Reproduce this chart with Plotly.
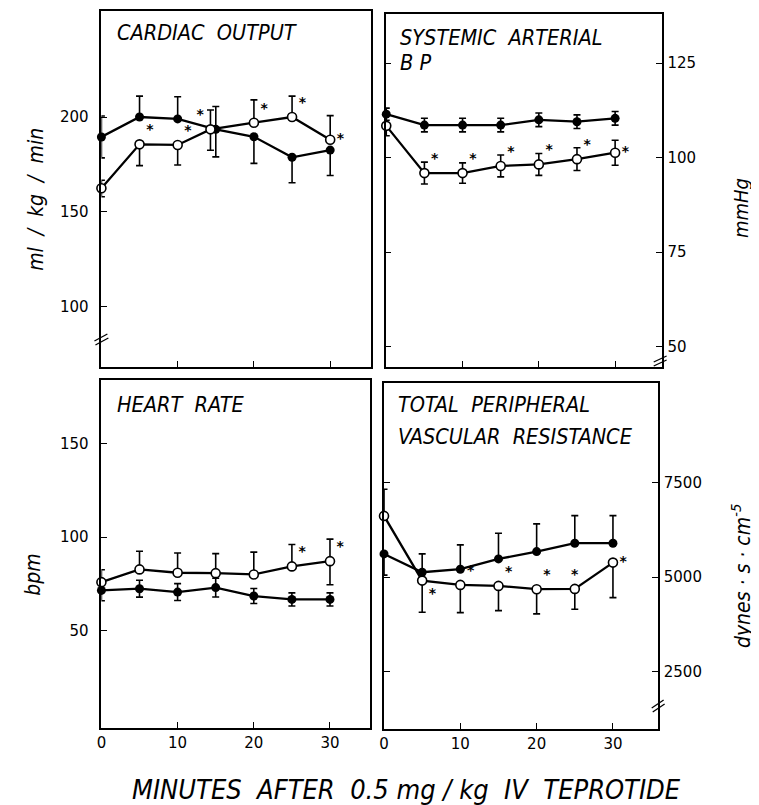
import plotly.graph_objects as go

# page body adds an 8px margin; figure is sized/positioned to compensate
OFF = 8
W, H = 751, 797

minutes = [0, 5, 10, 15, 20, 25, 30]
minutes_co_tep = [0, 5, 10, 14.3, 20, 25, 30]

# Cardiac output (ml/kg/min)
co_ctrl = [189.5, 200, 199, 193.5, 189.6, 178.8, 182.6]
co_ctrl_up = [11, 11, 11.7, 12, 0, 0, 0]
co_ctrl_dn = [11, 0, 0, 14.5, 14, 13.4, 13.4]
co_tep = [162.5, 185.6, 185.3, 193.5, 197, 200, 188]
co_tep_up = [4.2, 0, 0, 10.2, 12, 11, 12.7]
co_tep_dn = [4.5, 11.2, 10.6, 11, 0, 0, 0]
co_sig = [None, "*", "*", "*", "*", "*", "*"]

# Systemic arterial BP (mmHg)
bp_ctrl = [111.5, 108.6, 108.6, 108.6, 110, 109.5, 110.4]
bp_ctrl_err = [1.6, 1.8, 1.8, 1.8, 1.8, 1.8, 1.8]
bp_tep = [108.4, 95.9, 95.9, 97.8, 98.2, 99.6, 101.3]
bp_tep_up = [0, 2.9, 2.7, 2.9, 2.9, 3.0, 3.3]
bp_tep_dn = [2.6, 2.9, 2.7, 2.9, 2.9, 3.0, 3.3]
bp_sig = [None, "*", "*", "*", "*", "*", "*"]

# Heart rate (bpm)
hr_ctrl = [71.6, 72.5, 70.7, 73.1, 68.6, 66.8, 66.8]
hr_ctrl_err = [5.5, 4.5, 4.5, 5, 4, 3.5, 3.5]
hr_tep = [76, 82.8, 81, 80.8, 80.1, 84.4, 87.2]
hr_tep_up = [6.6, 9.7, 10.5, 10.4, 11.9, 11.7, 11.7]
hr_tep_dn = [0, 0, 0, 0, 0, 0, 12.6]
hr_sig = [None, None, None, None, None, "*", "*"]

# Total peripheral vascular resistance (dynes s cm-5)
tpr_ctrl = [5616, 5132, 5211, 5484, 5677, 5899, 5899]
tpr_ctrl_up = [0, 484, 644, 680, 733, 731, 731]
tpr_ctrl_dn = [560, 0, 0, 0, 0, 0, 0]
tpr_tep = [6622, 4910, 4796, 4770, 4683, 4690, 5386]
tpr_tep_up = [706, 0, 0, 0, 0, 0, 0]
tpr_tep_dn = [0, 836, 732, 653, 654, 537, 926]
tpr_sig = [None, "*", "*", "*", "*", "*", "*"]

x_ticks = [0, 10, 20, 30]
co_ticks = [100, 150, 200]
bp_ticks = [50, 75, 100, 125]
hr_ticks = [50, 100, 150]
tpr_ticks = [2500, 5000, 7500]

BLACK = "black"
TICKFONT = dict(family="DejaVu Sans, sans-serif", size=15, color=BLACK)
TITLEFONT = dict(family="DejaVu Sans Condensed, sans-serif",
                 size=21.5, color=BLACK, style="italic")
LABELFONT = dict(family="DejaVu Sans Condensed, DejaVu Sans, sans-serif", size=21,
                 color=BLACK, style="italic")


def px_x(p):
    return (p - OFF) / W


def px_y(p):
    return 1 - (p - OFF) / H


fig = go.Figure()


def add_pair(xa, ya, x_c, yc, cu, cd, x_t, yt, tu, td, sig, sigpos):
    fig.add_trace(go.Scatter(
        x=x_c, y=yc, xaxis=xa, yaxis=ya, mode="lines+markers",
        line=dict(color=BLACK, width=2.3),
        marker=dict(symbol="circle", size=9, color=BLACK),
        error_y=dict(type="data", symmetric=False, array=cu, arrayminus=cd,
                     color=BLACK, thickness=1.6, width=3.5),
        cliponaxis=False, showlegend=False))
    fig.add_trace(go.Scatter(
        x=x_t, y=yt, xaxis=xa, yaxis=ya, mode="lines+markers+text",
        line=dict(color=BLACK, width=2.3),
        marker=dict(symbol="circle", size=9, color="white",
                    line=dict(color=BLACK, width=1.6)),
        error_y=dict(type="data", symmetric=False, array=tu, arrayminus=td,
                     color=BLACK, thickness=1.6, width=3.5),
        text=sig, textposition=sigpos,
        textfont=dict(family="DejaVu Sans, sans-serif", size=14, color=BLACK,
                      weight="bold"),
        cliponaxis=False, showlegend=False))


add_pair("x", "y", minutes, co_ctrl, co_ctrl_up, co_ctrl_dn,
         minutes_co_tep, co_tep, co_tep_up, co_tep_dn, co_sig,
         ["top right", "top right", "top right", "top left", "top right",
          "top right", "middle right"])
add_pair("x2", "y2", minutes, bp_ctrl, bp_ctrl_err, bp_ctrl_err,
         minutes, bp_tep, bp_tep_up, bp_tep_dn, bp_sig,
         ["top right"] * 6 + ["middle right"])
add_pair("x3", "y3", minutes, hr_ctrl, hr_ctrl_err, hr_ctrl_err,
         minutes, hr_tep, hr_tep_up, hr_tep_dn, hr_sig,
         ["top right"] * 7)
add_pair("x4", "y4", minutes, tpr_ctrl, tpr_ctrl_up, tpr_ctrl_dn,
         minutes, tpr_tep, tpr_tep_up, tpr_tep_dn, tpr_sig,
         ["top right", "bottom right", "top right", "top right", "top right",
          "top center", "middle right"])


def xaxis(domain, rng, labels, anchor):
    return dict(domain=domain, range=rng, tickvals=x_ticks, ticks="inside",
                ticklen=6, tickwidth=1.4, tickcolor=BLACK,
                showticklabels=labels, tickfont=TICKFONT, anchor=anchor,
                showline=True, linecolor=BLACK, linewidth=1.6, mirror=True,
                showgrid=False, zeroline=False, fixedrange=True)


def yaxis(domain, rng, vals, side, mirror, anchor, standoff):
    return dict(domain=domain, range=rng, tickvals=vals, ticks="inside",
                ticklen=6, tickwidth=1.4, tickcolor=BLACK, side=side,
                tickfont=TICKFONT, ticklabelstandoff=standoff,
                showline=True, linecolor=BLACK, linewidth=1.6, mirror=mirror,
                showgrid=False, zeroline=False, anchor=anchor, fixedrange=True)


fig.update_layout(
    width=W, height=H, margin=dict(l=0, r=0, t=0, b=0),
    paper_bgcolor="white", plot_bgcolor="white",
    xaxis=xaxis([px_x(97), px_x(368)], [0, 35.3], False, "y"),
    yaxis=yaxis([px_y(367), px_y(11)], [68.4, 255.8], co_ticks, "left", True, "x", 8),
    xaxis2=xaxis([px_x(383), px_x(661)], [-0.1, 36.1], False, "y2"),
    yaxis2=yaxis([px_y(367), px_y(14)], [44.6, 138], bp_ticks, "right", "ticks", "x2", 1),
    xaxis3=xaxis([px_x(97), px_x(367)], [0, 35.2], True, "y3"),
    yaxis3=yaxis([px_y(728), px_y(380)], [-1.7, 183.7], hr_ticks, "left", True, "x3", 8),
    xaxis4=xaxis([px_x(381.5), px_x(657.3)], [0, 35.9], True, "y4"),
    yaxis4=yaxis([px_y(729), px_y(383)], [984, 10138], tpr_ticks, "right", "ticks", "x4", 1),
)


def ann(text, x, y, font, angle=0, xanchor="left"):
    fig.add_annotation(text=text, x=px_x(x), y=px_y(y), xref="paper", yref="paper",
                       showarrow=False, font=font, textangle=angle,
                       xanchor=xanchor, yanchor="middle")


ann("CARDIAC  OUTPUT", 111, 33, TITLEFONT)
ann("SYSTEMIC  ARTERIAL", 396, 37, TITLEFONT)
ann("B P", 396, 63, TITLEFONT)
ann("HEART  RATE", 111, 404, TITLEFONT)
ann("TOTAL  PERIPHERAL", 394, 405, TITLEFONT)
ann("VASCULAR  RESISTANCE", 394, 436, TITLEFONT)

ann("ml  /  kg  /  min", 31, 199, LABELFONT, -90, "center")
ann("mmHg", 741, 208, dict(LABELFONT, size=20), -90, "center")
ann("bpm", 28, 575, LABELFONT, -90, "center")
ann("dynes · s · cm<sup>-5</sup>", 741, 576, LABELFONT, -90, "center")
ann("MINUTES  AFTER  0.5 mg / kg  IV  TEPROTIDE", 404, 789,
    dict(TITLEFONT, size=27), 0, "center")

# axis-break marks
for (x0, y0, x1, y1) in [(90, 341, 103, 334), (91, 345, 104, 338),
                         (653, 362, 666, 356), (653, 366, 666, 360),
                         (651, 708, 663, 700), (652, 712, 664, 704)]:
    fig.add_shape(type="line", xref="paper", yref="paper",
                  x0=px_x(x0), y0=px_y(y0), x1=px_x(x1), y1=px_y(y1),
                  line=dict(color=BLACK, width=1.3))

fig.write_html("out.html")
